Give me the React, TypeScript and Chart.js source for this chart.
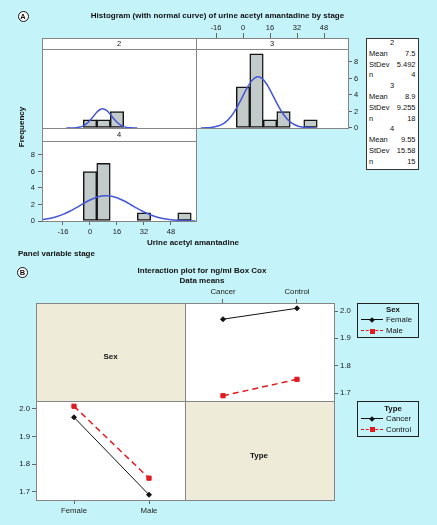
import React, { useEffect, useRef } from 'react';
import { Chart, registerables } from 'chart.js';

Chart.register(...registerables);

// ---------- Panel A data ----------
const histTickValues = [-16, 0, 16, 32, 48];
const freqTickValues = [0, 2, 4, 6, 8];

const stage2BinCenters = [0, 8, 16];
const stage2Counts = [1, 1, 2];
const stage3BinCenters = [0, 8, 16, 24, 40];
const stage3Counts = [5, 9, 1, 2, 1];
const stage4BinCenters = [0, 8, 32, 56];
const stage4Counts = [6, 7, 1, 1];

const curve2X = [-14, -12, -10, -8, -6, -4, -2, 0, 2, 4, 6, 8, 10, 12, 14, 16, 18, 20, 22, 24, 26, 28];
const curve2Y = [0.001, 0.004, 0.015, 0.043, 0.11, 0.26, 0.52, 0.91, 1.41, 1.9, 2.24, 2.31, 2.1, 1.66, 1.15, 0.7, 0.37, 0.17, 0.07, 0.03, 0.01, 0.0];
const curve3X = [-25, -22, -19, -16, -13, -10, -7, -4, -1, 2, 5, 8, 11, 14, 17, 20, 23, 26, 29, 32, 35, 38, 41, 43];
const curve3Y = [0.01, 0.02, 0.07, 0.17, 0.38, 0.77, 1.42, 2.35, 3.5, 4.7, 5.68, 6.18, 6.05, 5.33, 4.23, 3.02, 1.94, 1.13, 0.59, 0.28, 0.12, 0.04, 0.02, 0.01];
const curve4X = [-28.4, -24, -20, -16, -12, -8, -4, 0, 4, 8, 12, 16, 20, 24, 28, 32, 36, 40, 44, 48, 52, 56, 60, 62.5];
const curve4Y = [0.16, 0.3, 0.51, 0.8, 1.18, 1.63, 2.1, 2.55, 2.88, 3.06, 3.03, 2.82, 2.45, 2.0, 1.52, 1.09, 0.73, 0.45, 0.27, 0.15, 0.08, 0.04, 0.02, 0.01];

const statStages = ['2', '3', '4'];
const statMeans = ['7.5', '8.9', '9.55'];
const statStDevs = ['5.492', '9.255', '15.58'];
const statNs = ['4', '18', '15'];

// ---------- Panel B data ----------
const typeLevels = ['Cancer', 'Control'];
const sexLevels = ['Female', 'Male'];
const femaleMeansByType = [1.97, 2.01];
const maleMeansByType = [1.69, 1.75];
const cancerMeansBySex = [1.97, 1.69];
const controlMeansBySex = [2.01, 1.75];
const boxCoxTickValues = [1.7, 1.8, 1.9, 2.0];

// ---------- styles ----------
const BG = '#c4f4fa';
const BEIGE = '#eeecd8';
const PB = '#858585';
const BAR_FILL = '#c3caca';
const CURVE = '#4356d8';
const RED = '#e3191f';
const FONT = '"Liberation Sans", Arial, Helvetica, sans-serif';

function axis(o: any) {
  const horizontal = o.position === 'top' || o.position === 'bottom';
  return {
    type: 'linear',
    position: o.position,
    min: o.min,
    max: o.max,
    bounds: 'data',
    offset: false,
    afterBuildTicks: (s: any) => {
      s.ticks = o.ticks.map((v: number) => ({ value: v }));
    },
    afterFit: (s: any) => {
      if (horizontal) s.height = o.size;
      else s.width = o.size;
    },
    ticks: {
      autoSkip: false,
      maxRotation: 0,
      minRotation: 0,
      padding: o.padding,
      color: '#1a1a1a',
      font: { family: FONT, size: o.fontSize },
      callback: (v: any) => o.label(Number(v)),
    },
    grid: {
      offset: false,
      drawOnChartArea: false,
      drawTicks: true,
      tickLength: o.tickLength,
      color: '#666',
      lineWidth: 1,
    },
    border: { display: false },
  };
}

const barDs = (centers: number[], counts: number[], xAxisID: string, yAxisID: string) => ({
  type: 'bar',
  data: centers.map((x, i) => ({ x, y: counts[i] })),
  xAxisID,
  yAxisID,
  backgroundColor: BAR_FILL,
  borderColor: '#151515',
  borderWidth: 1.5,
  borderSkipped: false,
  grouped: false,
  barPercentage: 1,
  categoryPercentage: 1,
  order: 2,
});

const curveDs = (xs: number[], ys: number[], xAxisID: string, yAxisID: string) => ({
  type: 'line',
  data: xs.map((x, i) => ({ x, y: ys[i] })),
  xAxisID,
  yAxisID,
  borderColor: CURVE,
  borderWidth: 1.5,
  pointRadius: 0,
  tension: 0.3,
  fill: false,
  order: 1,
});

const configA: any = {
  type: 'bar',
  data: {
    datasets: [
      barDs(stage2BinCenters, stage2Counts, 'xL', 'yT'),
      barDs(stage3BinCenters, stage3Counts, 'xR', 'yT'),
      barDs(stage4BinCenters, stage4Counts, 'xL', 'yB'),
      curveDs(curve2X, curve2Y, 'xL', 'yT'),
      curveDs(curve3X, curve3Y, 'xR', 'yT'),
      curveDs(curve4X, curve4Y, 'xL', 'yB'),
    ],
  },
  options: {
    responsive: false,
    animation: false,
    events: [],
    layout: { padding: { left: 12, right: 59, top: 14, bottom: 19 } },
    plugins: { legend: { display: false }, tooltip: { enabled: false } },
    scales: {
      xL: axis({ position: 'bottom', min: -28.444, max: 152.889, ticks: histTickValues, label: (v: number) => String(v), size: 20, tickLength: 4, padding: 2, fontSize: 7.5 }),
      xR: axis({ position: 'top', min: -119.111, max: 62.222, ticks: histTickValues, label: (v: number) => String(v), size: 24, tickLength: 5, padding: 1, fontSize: 7.5 }),
      yT: axis({ position: 'right', min: -11.273, max: 10.909, ticks: freqTickValues, label: (v: number) => String(v), size: 30, tickLength: 4, padding: 2, fontSize: 7.5 }),
      yB: axis({ position: 'left', min: 0, max: 22.18, ticks: freqTickValues, label: (v: number) => String(v), size: 30, tickLength: 4, padding: 3, fontSize: 7.5 }),
    },
  },
};

const meanLine = (xs: number[], ys: number[], xAxisID: string, yAxisID: string, female: boolean) => ({
  type: 'line',
  data: xs.map((x, i) => ({ x, y: ys[i] })),
  xAxisID,
  yAxisID,
  borderColor: female ? '#111' : RED,
  borderWidth: female ? 1 : 1.5,
  borderDash: female ? [] : [6, 4],
  pointStyle: female ? 'rectRot' : 'rect',
  pointRadius: female ? 2.5 : 3,
  pointBackgroundColor: female ? '#111' : RED,
  pointBorderColor: female ? '#111' : RED,
  pointBorderWidth: 1,
  tension: 0,
  fill: false,
});

const levelIdx = [0, 1];

const configB: any = {
  type: 'line',
  data: {
    datasets: [
      meanLine(levelIdx, femaleMeansByType, 'xTop', 'yRight', true),
      meanLine(levelIdx, maleMeansByType, 'xTop', 'yRight', false),
      meanLine(levelIdx, cancerMeansBySex, 'xBot', 'yLeft', true),
      meanLine(levelIdx, controlMeansBySex, 'xBot', 'yLeft', false),
    ],
  },
  options: {
    responsive: false,
    animation: false,
    events: [],
    layout: { padding: { left: 6, right: 73, top: 19, bottom: 7 } },
    plugins: { legend: { display: false }, tooltip: { enabled: false } },
    scales: {
      xTop: axis({ position: 'top', min: -2.527, max: 1.5, ticks: levelIdx, label: (v: number) => typeLevels[v], size: 24, tickLength: 4, padding: 2, fontSize: 7.8 }),
      xBot: axis({ position: 'bottom', min: -0.5067, max: 3.4667, ticks: levelIdx, label: (v: number) => sexLevels[v], size: 18, tickLength: 4, padding: 2, fontSize: 7.8 }),
      yRight: axis({ position: 'right', min: 1.30854, max: 2.02927, ticks: boxCoxTickValues, label: (v: number) => v.toFixed(1), size: 30, tickLength: 4, padding: 2, fontSize: 7.8 }),
      yLeft: axis({ position: 'left', min: 1.67108, max: 2.38313, ticks: boxCoxTickValues, label: (v: number) => v.toFixed(1), size: 30, tickLength: 4, padding: 2, fontSize: 7.8 }),
    },
  },
};

function ChartCanvas({ left, top, width, height, config }: any) {
  const ref = useRef<HTMLCanvasElement>(null);
  useEffect(() => {
    const chart = new Chart(ref.current as HTMLCanvasElement, config);
    return () => chart.destroy();
  }, []);
  return (
    <canvas
      ref={ref}
      width={width}
      height={height}
      style={{ position: 'absolute', left, top, width, height }}
    />
  );
}

function Rect({ x, y, w, h, bg, border }: any) {
  return (
    <div
      style={{
        position: 'absolute',
        left: x,
        top: y,
        width: w,
        height: h,
        background: bg || 'transparent',
        border: border || 'none',
        boxSizing: 'border-box',
      }}
    />
  );
}

function T({ x, y, children, size = 8, bold = false, align = 'center', rotate = 0 }: any) {
  const tx = align === 'center' ? '-50%' : align === 'right' ? '-100%' : '0';
  return (
    <div
      style={{
        position: 'absolute',
        left: x,
        top: y,
        transform: `translate(${tx},-50%)${rotate ? ` rotate(${rotate}deg)` : ''}`,
        fontSize: size,
        fontWeight: bold ? 700 : 400,
        lineHeight: 1,
        whiteSpace: 'nowrap',
        color: '#111',
        fontFamily: FONT,
      }}
    >
      {children}
    </div>
  );
}

function Circled({ x, y, letter }: any) {
  return (
    <div
      style={{
        position: 'absolute',
        left: x - 5.5,
        top: y - 5.5,
        width: 11,
        height: 11,
        border: '1px solid #111',
        borderRadius: '50%',
        boxSizing: 'border-box',
        background: '#fff',
        fontSize: 7.5,
        fontWeight: 700,
        lineHeight: '9px',
        textAlign: 'center',
        fontFamily: FONT,
        color: '#111',
      }}
    >
      {letter}
    </div>
  );
}

function LegendRow({ y, female, label }: any) {
  const color = female ? '#111' : RED;
  return (
    <>
      <div
        style={{
          position: 'absolute',
          left: 361,
          top: y - 0.75,
          width: 22,
          height: 0,
          borderTop: `1.5px ${female ? 'solid' : 'dashed'} ${color}`,
        }}
      />
      <div
        style={{
          position: 'absolute',
          left: female ? 370 : 369.5,
          top: female ? y - 2 : y - 2.5,
          width: female ? 4 : 5,
          height: female ? 4 : 5,
          background: color,
          transform: female ? 'rotate(45deg)' : 'none',
        }}
      />
      <T x={386} y={y} size={7.8} align="left">
        {label}
      </T>
    </>
  );
}

export default function App() {
  const statRows: any[] = [];
  statStages.forEach((s, i) => {
    const base = 43 + i * 4 * 10.8;
    statRows.push(
      <T key={`s${i}`} x={392} y={base} size={7.5}>{s}</T>,
      <T key={`m${i}`} x={369} y={base + 10.8} size={7.5} align="left">Mean</T>,
      <T key={`mv${i}`} x={415.5} y={base + 10.8} size={7.5} align="right">{statMeans[i]}</T>,
      <T key={`d${i}`} x={369} y={base + 21.6} size={7.5} align="left">StDev</T>,
      <T key={`dv${i}`} x={415.5} y={base + 21.6} size={7.5} align="right">{statStDevs[i]}</T>,
      <T key={`n${i}`} x={369} y={base + 32.4} size={7.5} align="left">n</T>,
      <T key={`nv${i}`} x={415.5} y={base + 32.4} size={7.5} align="right">{statNs[i]}</T>
    );
  });

  return (
    <div
      style={{
        position: 'absolute',
        left: 0,
        top: 0,
        width: 437,
        height: 525,
        background: BG,
        overflow: 'hidden',
        fontFamily: FONT,
      }}
    >
      {/* Panel A plot backgrounds */}
      <Rect x={42} y={38} w={154} h={90} bg="#fff" />
      <Rect x={196} y={38} w={152} h={90} bg="#fff" />
      <Rect x={42} y={128} w={154} h={93} bg="#fff" />
      {/* Panel B cell backgrounds */}
      <Rect x={36} y={303} w={149} h={98} bg={BEIGE} />
      <Rect x={185} y={303} w={149} h={98} bg="#fff" />
      <Rect x={36} y={401} w={149} h={99} bg="#fff" />
      <Rect x={185} y={401} w={149} h={99} bg={BEIGE} />

      <ChartCanvas left={0} top={0} width={437} height={260} config={configA} />
      <ChartCanvas left={0} top={260} width={437} height={265} config={configB} />

      {/* Panel A strips and outlines */}
      <Rect x={42} y={38} w={155} h={12} bg="#fff" border={`1px solid ${PB}`} />
      <Rect x={196} y={38} w={153} h={12} bg="#fff" border={`1px solid ${PB}`} />
      <Rect x={42} y={128} w={155} h={14} bg="#fff" border={`1px solid ${PB}`} />
      <Rect x={42} y={38} w={155} h={91} border={`1px solid ${PB}`} />
      <Rect x={196} y={38} w={153} h={91} border={`1px solid ${PB}`} />
      <Rect x={42} y={128} w={155} h={94} border={`1px solid ${PB}`} />
      <T x={119} y={44} size={7.5}>2</T>
      <T x={272} y={44} size={7.5}>3</T>
      <T x={119} y={135} size={7.5}>4</T>

      <Circled x={23} y={16} letter="A" />
      <T x={217.5} y={15.5} bold>Histogram (with normal curve) of urine acetyl amantadine by stage</T>
      <T x={21.5} y={127} bold rotate={-90}>Frequency</T>
      <T x={193} y={243} bold>Urine acetyl amantadine</T>
      <T x={18} y={253.5} bold align="left">Panel variable stage</T>

      {/* Stats box */}
      <Rect x={366} y={38} w={53} h={132} bg="#fff" border="1px solid #333" />
      {statRows}

      {/* Panel B */}
      <Circled x={22.5} y={272} letter="B" />
      <T x={202} y={270.5} bold>Interaction plot for ng/ml Box Cox</T>
      <T x={202} y={280.5} bold>Data means</T>
      <Rect x={36} y={303} w={299} h={198} border={`1px solid ${PB}`} />
      <Rect x={185} y={303} w={1} h={198} bg={PB} />
      <Rect x={36} y={401} w={299} h={1} bg={PB} />
      <T x={110.5} y={357} bold>Sex</T>
      <T x={259} y={456} bold>Type</T>

      {/* Legends */}
      <Rect x={357} y={303} w={62} h={35} border="1.5px solid #222" />
      <T x={393} y={309.5} size={7.8} bold>Sex</T>
      <LegendRow y={320} female label="Female" />
      <LegendRow y={331} female={false} label="Male" />

      <Rect x={357} y={401} w={62} h={36} border="1.5px solid #222" />
      <T x={393} y={409} size={7.8} bold>Type</T>
      <LegendRow y={419} female label="Cancer" />
      <LegendRow y={429.5} female={false} label="Control" />
    </div>
  );
}
